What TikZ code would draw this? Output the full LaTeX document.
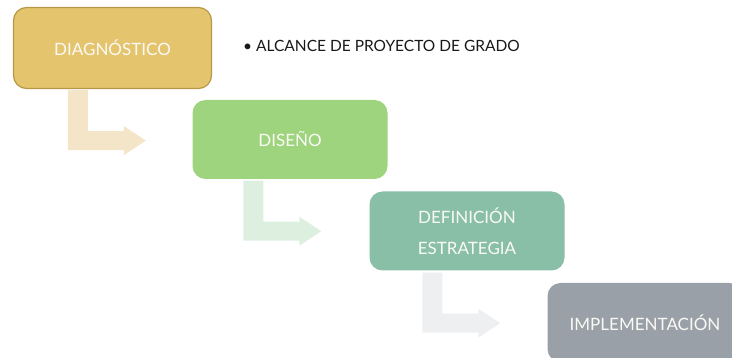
\documentclass[tikz,border=0pt]{standalone}
\usepackage{fontspec}
\setmainfont{Lato}
\usetikzlibrary{positioning}
\definecolor{FillDiag}{RGB}{229,196,110}
\definecolor{LineDiag}{RGB}{184,152,70}
\definecolor{FillDis}{RGB}{158,212,125}
\definecolor{FillDef}{RGB}{137,191,166}
\definecolor{FillImp}{RGB}{154,160,168}
\definecolor{ArrDiag}{RGB}{245,229,200}
\definecolor{ArrDis}{RGB}{221,239,223}
\definecolor{ArrDef}{RGB}{238,239,241}
\definecolor{TextBox}{RGB}{250,250,245}
\definecolor{TextNote}{RGB}{25,25,25}

\begin{document}
\begin{tikzpicture}[x=1pt, y=-1pt,
            stage/.style={rounded corners=13pt, minimum width=195pt, minimum height=79pt, align=center, inner sep=0pt, text=TextBox, font=\fontsize{17}{30.5}\selectfont},
            note/.style={anchor=west, inner sep=0pt, text=TextNote, font=\fontsize{15.5}{18}\selectfont}
        ]
            \clip (0,0) rectangle (732,358);
            \node[stage, fill=FillDiag, draw=LineDiag, line width=1.2pt, minimum width=198pt, minimum height=81pt] (diag) at (112.5,48) {DIAGNÓSTICO};
            \node[stage, fill=FillDis] (disenio) at (290,139.5) {DISEÑO};
            \node[stage, fill=FillDef] (estrat)  at (467,231)   {DEFINICIÓN\\ESTRATEGIA};
            \node[stage, fill=FillImp] (implem)  at (645,322.5) {IMPLEMENTACIÓN};
            \node[note] (alcance) at (243,45.5) {\textbullet\ ALCANCE DE PROYECTO DE GRADO};
            % bent arrows below each stage
            \fill[ArrDiag] ([xshift=55pt, yshift=-1pt]diag.south west) -- ++(20,0) -- ++(0,41) -- ++(36,0) -- ++(0,-5) -- ++(22,14.5) -- ++(-22,14.5) -- ++(0,-5) -- ++(-56,0) -- cycle;
            \fill[ArrDis] ([xshift=51pt, yshift=-1.5pt]disenio.south west) -- ++(20,0) -- ++(0,41) -- ++(36,0) -- ++(0,-5) -- ++(22,14.5) -- ++(-22,14.5) -- ++(0,-5) -- ++(-56,0) -- cycle;
            \fill[ArrDef] ([xshift=53pt, yshift=-2pt]estrat.south west) -- ++(20,0) -- ++(0,41) -- ++(36,0) -- ++(0,-5) -- ++(22,14.5) -- ++(-22,14.5) -- ++(0,-5) -- ++(-56,0) -- cycle;
        \end{tikzpicture}
\end{document}
